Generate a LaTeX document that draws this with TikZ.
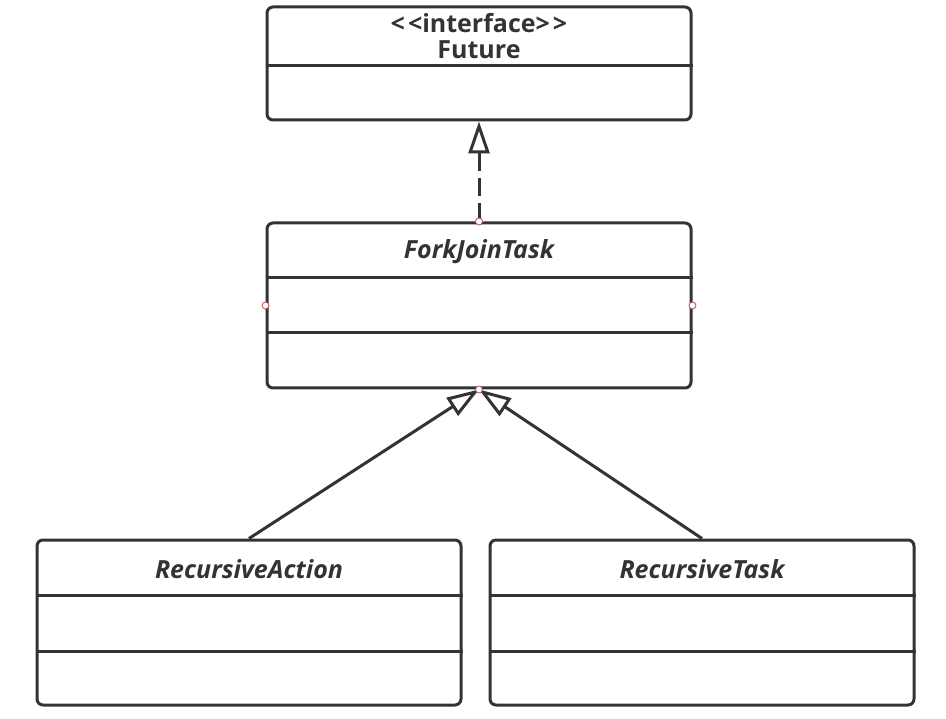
\documentclass[tikz,border=0pt]{standalone}
\usepackage{fontspec}
\setmainfont{Open Sans}
\usetikzlibrary{arrows.meta}
\definecolor{umlgray}{HTML}{333333}
\definecolor{handlered}{HTML}{B05050}
\begin{document}
\begin{tikzpicture}[x=1pt,y=-1pt,
    classbox/.style={draw=umlgray,line width=3pt,rounded corners=6pt,minimum width=424pt,inner sep=0pt},
    title/.style={text=umlgray,font=\fontsize{25}{30}\selectfont\bfseries},
    abstract/.style={title,font=\fontsize{25}{30}\selectfont\bfseries\itshape},
    realize/.style={draw=umlgray,line width=3pt,dash pattern=on 18pt off 7pt,-{Triangle[open,length=32pt,width=21pt]}},
    inherit/.style={draw=umlgray,line width=3pt,-{Triangle[open,length=32pt,width=21pt]}},
    handle/.style={draw=handlered,fill=white,line width=0.8pt}]
  \useasboundingbox (0,0) rectangle (946,719);
  % classes
  \node[classbox,minimum height=113pt] (future) at (479,63.5) {};
  \node[classbox,minimum height=165pt] (fjt) at (479,305.5) {};
  \node[classbox,minimum height=165pt] (action) at (249,622.5) {};
  \node[classbox,minimum height=165pt] (task) at (702,622.5) {};
  % compartments
  \draw[umlgray,line width=3pt] (future.west |- 0,66) -- (future.east |- 0,66);
  \draw[umlgray,line width=3pt] (fjt.west |- 0,278) -- (fjt.east |- 0,278);
  \draw[umlgray,line width=3pt] (fjt.west |- 0,333) -- (fjt.east |- 0,333);
  \draw[umlgray,line width=3pt] (action.west |- 0,595) -- (action.east |- 0,595);
  \draw[umlgray,line width=3pt] (action.west |- 0,651) -- (action.east |- 0,651);
  \draw[umlgray,line width=3pt] (task.west |- 0,595) -- (task.east |- 0,595);
  \draw[umlgray,line width=3pt] (task.west |- 0,651) -- (task.east |- 0,651);
  % names
  \node[title] (stereo) at (479,23) {<\kern3pt<interface>\kern3pt>};
  \node[title] (futurename) at (479,50) {Future};
  \node[abstract] (fjtname) at (479,252) {ForkJoinTask};
  \node[abstract] (actionname) at (249,569) {RecursiveAction};
  \node[abstract] (taskname) at (702,569) {RecursiveTask};
  % relations
  \draw[realize] (fjt.north) -- (future.south);
  \draw[inherit] (action.north) -- (fjt.south);
  \draw[inherit] (task.north) -- (fjt.south);
  % handles
  \draw[handle] (fjt.north) circle (3.5);
  \draw[handle] (fjt.west) circle (3.5);
  \draw[handle] (fjt.east) circle (3.5);
  \draw[handle] (fjt.south) circle (3.5);
\end{tikzpicture}
\end{document}
